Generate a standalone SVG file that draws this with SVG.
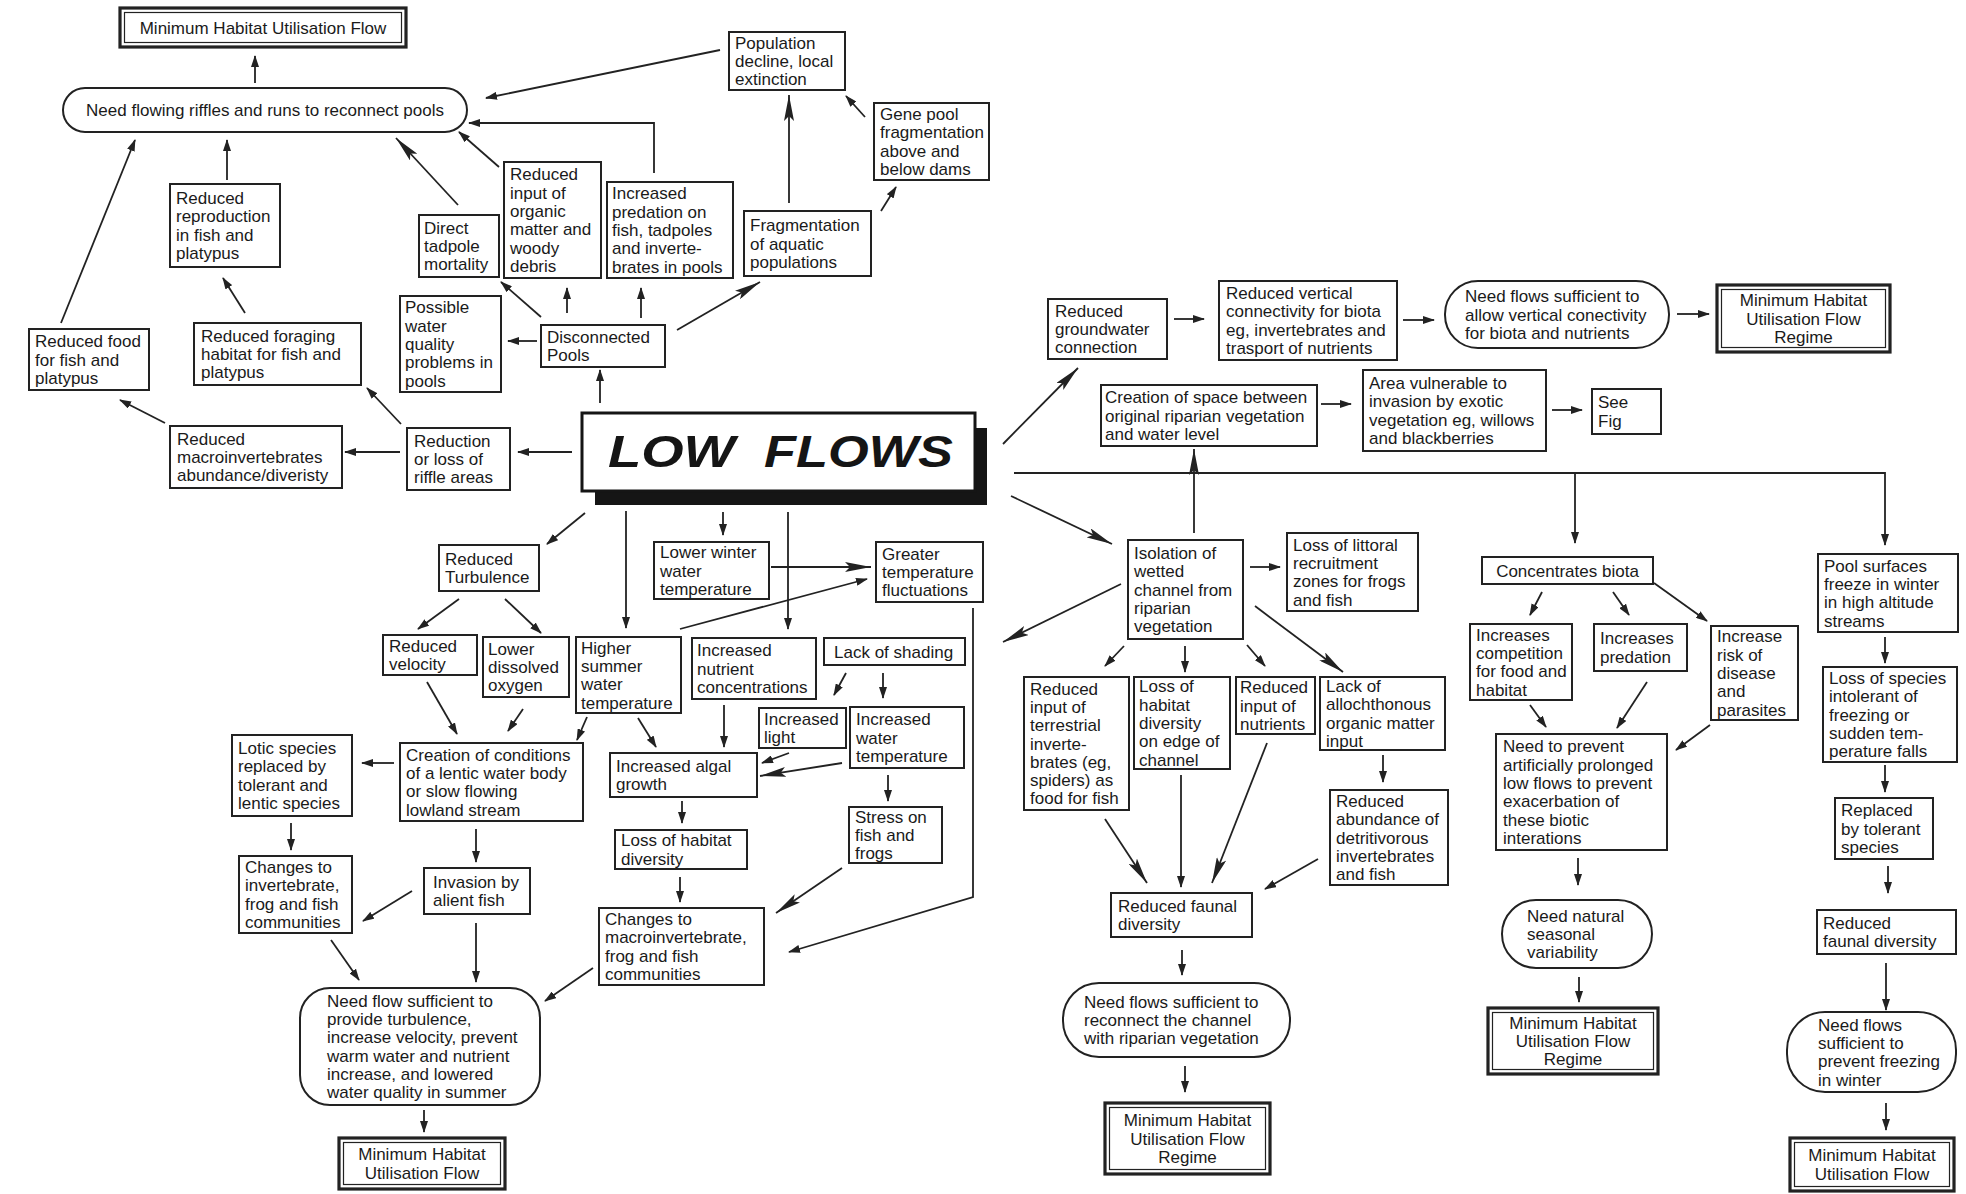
<svg xmlns="http://www.w3.org/2000/svg" width="1966" height="1194" viewBox="0 0 1966 1194">
<defs>
<style>
.box{fill:#fff;stroke:#222;stroke-width:2}
.dbl{fill:#fff;stroke:#222;stroke-width:3.2}
.inner{fill:none;stroke:#222;stroke-width:1.2}
.t{font-family:"Liberation Sans",Arial,Helvetica,sans-serif;font-size:17px;fill:#1a1a1a}
.c{text-anchor:middle}
.big{font-family:"Liberation Sans",Arial,sans-serif;font-size:44px;font-weight:bold;font-style:italic;fill:#151515}
.conn line,.conn polyline{stroke:#222;stroke-width:1.8;fill:none}
.a{marker-end:url(#a)}
.b{marker-end:url(#b)}
</style>
<marker id="a" markerUnits="userSpaceOnUse" markerWidth="12" markerHeight="8" refX="11" refY="4" orient="auto"><path d="M0,0 L12,4 L0,8 z" fill="#222"/></marker>
<marker id="b" markerUnits="userSpaceOnUse" markerWidth="26" markerHeight="10" refX="26" refY="5" orient="auto"><path d="M0,0 L26,5 L0,10 L5,5 z" fill="#222"/></marker>
</defs>
<rect x="0" y="0" width="1966" height="1194" fill="#fff"/>

<g class="conn">
<line class="a" x1="255" y1="83" x2="255" y2="56"/>
<line class="a" x1="61" y1="323" x2="135" y2="140"/>
<line class="a" x1="227" y1="180" x2="227" y2="140"/>
<line class="a" x1="245" y1="313" x2="223" y2="278"/>
<line class="b" x1="458" y1="205" x2="396" y2="138"/>
<line class="a" x1="499" y1="167" x2="459" y2="132"/>
<polyline class="a" points="654,173 654,123 469,123"/>
<line class="a" x1="720" y1="50" x2="486" y2="98"/>
<line class="a" x1="865" y1="117" x2="846" y2="96"/>
<line class="b" x1="789" y1="203" x2="789" y2="95"/>
<line class="a" x1="881" y1="211" x2="896" y2="187"/>
<line class="b" x1="677" y1="330" x2="760" y2="282"/>
<line class="a" x1="537" y1="341" x2="508" y2="341"/>
<line class="a" x1="541" y1="317" x2="501" y2="282"/>
<line class="a" x1="567" y1="313" x2="567" y2="288"/>
<line class="a" x1="641" y1="318" x2="641" y2="288"/>
<line class="a" x1="600" y1="403" x2="600" y2="370"/>
<line class="a" x1="572" y1="452" x2="518" y2="452"/>
<line class="a" x1="400" y1="452" x2="345" y2="452"/>
<line class="a" x1="165" y1="423" x2="120" y2="400"/>
<line class="a" x1="401" y1="424" x2="367" y2="388"/>
<line class="a" x1="585" y1="513" x2="547" y2="544"/>
<line class="a" x1="459" y1="599" x2="418" y2="629"/>
<line class="a" x1="505" y1="599" x2="541" y2="633"/>
<line class="a" x1="626" y1="511" x2="626" y2="628"/>
<line class="a" x1="723" y1="512" x2="723" y2="535"/>
<line class="a" x1="788" y1="512" x2="788" y2="629"/>
<line class="b" x1="771" y1="567" x2="871" y2="567"/>
<line class="a" x1="680" y1="629" x2="867" y2="579"/>
<line class="a" x1="427" y1="682" x2="457" y2="734"/>
<line class="a" x1="523" y1="709" x2="508" y2="731"/>
<line class="a" x1="587" y1="717" x2="577" y2="740"/>
<line class="a" x1="638" y1="718" x2="656" y2="747"/>
<line class="a" x1="846" y1="673" x2="834" y2="695"/>
<line class="a" x1="883" y1="673" x2="883" y2="698"/>
<line class="a" x1="724" y1="705" x2="724" y2="747"/>
<line class="a" x1="789" y1="753" x2="762" y2="763"/>
<line class="b" x1="842" y1="763" x2="760" y2="776"/>
<line class="a" x1="888" y1="775" x2="888" y2="801"/>
<line class="a" x1="394" y1="763" x2="362" y2="763"/>
<line class="a" x1="291" y1="823" x2="291" y2="850"/>
<line class="a" x1="476" y1="829" x2="476" y2="862"/>
<line class="a" x1="412" y1="891" x2="363" y2="921"/>
<line class="a" x1="331" y1="940" x2="359" y2="980"/>
<line class="a" x1="476" y1="923" x2="476" y2="982"/>
<line class="a" x1="593" y1="968" x2="545" y2="1001"/>
<line class="a" x1="424" y1="1110" x2="424" y2="1132"/>
<line class="a" x1="682" y1="801" x2="682" y2="823"/>
<line class="a" x1="680" y1="877" x2="680" y2="902"/>
<line class="b" x1="842" y1="868" x2="776" y2="913"/>
<polyline class="a" points="973,608 973,897 789,952"/>
<line class="b" x1="1003" y1="444" x2="1078" y2="368"/>
<line class="a" x1="1174" y1="319" x2="1204" y2="319"/>
<line class="a" x1="1403" y1="320" x2="1434" y2="320"/>
<line class="a" x1="1677" y1="314" x2="1709" y2="314"/>
<line class="a" x1="1321" y1="404" x2="1351" y2="404"/>
<line class="a" x1="1552" y1="410" x2="1582" y2="410"/>
<polyline class="a" points="1014,473 1885,473 1885,545"/>
<line class="a" x1="1575" y1="473" x2="1575" y2="543"/>
<line class="b" x1="1194" y1="533" x2="1194" y2="449"/>
<line class="b" x1="1011" y1="496" x2="1112" y2="544"/>
<line class="a" x1="1250" y1="567" x2="1280" y2="567"/>
<line class="b" x1="1121" y1="584" x2="1003" y2="642"/>
<line class="a" x1="1124" y1="646" x2="1105" y2="666"/>
<line class="a" x1="1185" y1="646" x2="1185" y2="672"/>
<line class="a" x1="1247" y1="645" x2="1265" y2="666"/>
<line class="b" x1="1255" y1="606" x2="1343" y2="672"/>
<line class="a" x1="1383" y1="755" x2="1383" y2="782"/>
<line class="b" x1="1105" y1="819" x2="1147" y2="883"/>
<line class="a" x1="1181" y1="775" x2="1181" y2="887"/>
<line class="b" x1="1267" y1="743" x2="1212" y2="883"/>
<line class="a" x1="1318" y1="859" x2="1265" y2="889"/>
<line class="a" x1="1182" y1="950" x2="1182" y2="975"/>
<line class="a" x1="1185" y1="1066" x2="1185" y2="1092"/>
<line class="a" x1="1542" y1="592" x2="1530" y2="615"/>
<line class="a" x1="1613" y1="592" x2="1629" y2="615"/>
<line class="a" x1="1654" y1="583" x2="1707" y2="621"/>
<line class="a" x1="1530" y1="705" x2="1546" y2="727"/>
<line class="a" x1="1647" y1="682" x2="1617" y2="728"/>
<line class="a" x1="1710" y1="725" x2="1676" y2="750"/>
<line class="a" x1="1578" y1="858" x2="1578" y2="885"/>
<line class="a" x1="1579" y1="977" x2="1579" y2="1002"/>
<line class="a" x1="1885" y1="637" x2="1885" y2="663"/>
<line class="a" x1="1885" y1="765" x2="1885" y2="792"/>
<line class="a" x1="1888" y1="866" x2="1888" y2="893"/>
<line class="a" x1="1886" y1="963" x2="1886" y2="1010"/>
<line class="a" x1="1886" y1="1103" x2="1886" y2="1130"/>
</g>

<g id="n_mhuf1"><rect class="dbl" x="120" y="8" width="286" height="39"/><rect class="inner" x="124.5" y="12.5" width="277" height="30"/><text class="t c" x="263" y="33.5">Minimum Habitat Utilisation Flow</text></g>
<g id="n_need_riffles"><rect class="box" x="63" y="88" width="404" height="44" rx="22"/><text class="t c" x="265" y="116">Need flowing riffles and runs to reconnect pools</text></g>
<g id="n_red_repro"><rect class="box" x="170" y="184" width="110" height="83"/><text class="t" y="204"><tspan x="176">Reduced</tspan><tspan x="176" dy="18.3">reproduction</tspan><tspan x="176" dy="18.3">in fish and</tspan><tspan x="176" dy="18.3">platypus</tspan></text></g>
<g id="n_red_food"><rect class="box" x="29" y="329" width="120" height="61"/><text class="t" y="347.2"><tspan x="35">Reduced food</tspan><tspan x="35" dy="18.3">for fish and</tspan><tspan x="35" dy="18.3">platypus</tspan></text></g>
<g id="n_red_forag"><rect class="box" x="194" y="323" width="167" height="62"/><text class="t" y="341.7"><tspan x="201">Reduced foraging</tspan><tspan x="201" dy="18.3">habitat for fish and</tspan><tspan x="201" dy="18.3">platypus</tspan></text></g>
<g id="n_direct"><rect class="box" x="419" y="215" width="80" height="62"/><text class="t" y="233.7"><tspan x="424">Direct</tspan><tspan x="424" dy="18.3">tadpole</tspan><tspan x="424" dy="18.3">mortality</tspan></text></g>
<g id="n_red_input"><rect class="box" x="504" y="162" width="97" height="116"/><text class="t" y="180.3"><tspan x="510">Reduced</tspan><tspan x="510" dy="18.3">input of</tspan><tspan x="510" dy="18.3">organic</tspan><tspan x="510" dy="18.3">matter and</tspan><tspan x="510" dy="18.3">woody</tspan><tspan x="510" dy="18.3">debris</tspan></text></g>
<g id="n_inc_pred"><rect class="box" x="607" y="182" width="126" height="96"/><text class="t" y="199.4"><tspan x="612">Increased</tspan><tspan x="612" dy="18.3">predation on</tspan><tspan x="612" dy="18.3">fish, tadpoles</tspan><tspan x="612" dy="18.3">and inverte-</tspan><tspan x="612" dy="18.3">brates in pools</tspan></text></g>
<g id="n_pop"><rect class="box" x="729" y="32" width="116" height="58"/><text class="t" y="48.7"><tspan x="735">Population</tspan><tspan x="735" dy="18.3">decline, local</tspan><tspan x="735" dy="18.3">extinction</tspan></text></g>
<g id="n_gene"><rect class="box" x="874" y="103" width="115" height="77"/><text class="t" y="120"><tspan x="880">Gene pool</tspan><tspan x="880" dy="18.3">fragmentation</tspan><tspan x="880" dy="18.3">above and</tspan><tspan x="880" dy="18.3">below dams</tspan></text></g>
<g id="n_frag"><rect class="box" x="744" y="211" width="127" height="65"/><text class="t" y="231.2"><tspan x="750">Fragmentation</tspan><tspan x="750" dy="18.3">of aquatic</tspan><tspan x="750" dy="18.3">populations</tspan></text></g>
<g id="n_possible"><rect class="box" x="400" y="296" width="101" height="96"/><text class="t" y="313.4"><tspan x="405">Possible</tspan><tspan x="405" dy="18.3">water</tspan><tspan x="405" dy="18.3">quality</tspan><tspan x="405" dy="18.3">problems in</tspan><tspan x="405" dy="18.3">pools</tspan></text></g>
<g id="n_disc"><rect class="box" x="541" y="325" width="124" height="42"/><text class="t" y="342.9"><tspan x="547">Disconnected</tspan><tspan x="547" dy="18.3">Pools</tspan></text></g>
<g id="n_red_macro"><rect class="box" x="170" y="426" width="172" height="62"/><text class="t" y="444.7"><tspan x="177">Reduced</tspan><tspan x="177" dy="18.3">macroinvertebrates</tspan><tspan x="177" dy="18.3">abundance/diveristy</tspan></text></g>
<g id="n_reduction"><rect class="box" x="407" y="428" width="103" height="62"/><text class="t" y="446.7"><tspan x="414">Reduction</tspan><tspan x="414" dy="18.3">or loss of</tspan><tspan x="414" dy="18.3">riffle areas</tspan></text></g>
<g id="n_low"><rect x="595" y="428" width="392" height="77" fill="#151515"/><rect x="582" y="413" width="393" height="78" fill="#fff" stroke="#151515" stroke-width="3"/><text class="big" x="608" y="467" textLength="127" lengthAdjust="spacingAndGlyphs">LOW</text><text class="big" x="764" y="467" textLength="189" lengthAdjust="spacingAndGlyphs">FLOWS</text></g>
<g id="n_turb"><rect class="box" x="439" y="545" width="100" height="46"/><text class="t" y="564.9"><tspan x="445">Reduced</tspan><tspan x="445" dy="18.3">Turbulence</tspan></text></g>
<g id="n_velocity"><rect class="box" x="383" y="635" width="94" height="40"/><text class="t" y="651.9"><tspan x="389">Reduced</tspan><tspan x="389" dy="18.3">velocity</tspan></text></g>
<g id="n_oxygen"><rect class="box" x="483" y="637" width="86" height="60"/><text class="t" y="654.7"><tspan x="488">Lower</tspan><tspan x="488" dy="18.3">dissolved</tspan><tspan x="488" dy="18.3">oxygen</tspan></text></g>
<g id="n_higher"><rect class="box" x="576" y="637" width="105" height="76"/><text class="t" y="653.6"><tspan x="581">Higher</tspan><tspan x="581" dy="18.3">summer</tspan><tspan x="581" dy="18.3">water</tspan><tspan x="581" dy="18.3">temperature</tspan></text></g>
<g id="n_winter"><rect class="box" x="654" y="542" width="115" height="57"/><text class="t" y="558.2"><tspan x="660">Lower winter</tspan><tspan x="660" dy="18.3">water</tspan><tspan x="660" dy="18.3">temperature</tspan></text></g>
<g id="n_greater"><rect class="box" x="876" y="542" width="107" height="60"/><text class="t" y="559.7"><tspan x="882">Greater</tspan><tspan x="882" dy="18.3">temperature</tspan><tspan x="882" dy="18.3">fluctuations</tspan></text></g>
<g id="n_nutrient"><rect class="box" x="692" y="638" width="124" height="61"/><text class="t" y="656.2"><tspan x="697">Increased</tspan><tspan x="697" dy="18.3">nutrient</tspan><tspan x="697" dy="18.3">concentrations</tspan></text></g>
<g id="n_shading"><rect class="box" x="824" y="638" width="141" height="27"/><text class="t" x="834" y="657.5">Lack of shading</text></g>
<g id="n_light"><rect class="box" x="759" y="708" width="87" height="40"/><text class="t" y="724.9"><tspan x="764">Increased</tspan><tspan x="764" dy="18.3">light</tspan></text></g>
<g id="n_watertemp"><rect class="box" x="850" y="707" width="114" height="61"/><text class="t" y="725.2"><tspan x="856">Increased</tspan><tspan x="856" dy="18.3">water</tspan><tspan x="856" dy="18.3">temperature</tspan></text></g>
<g id="n_algal"><rect class="box" x="610" y="753" width="147" height="44"/><text class="t" y="771.9"><tspan x="616">Increased algal</tspan><tspan x="616" dy="18.3">growth</tspan></text></g>
<g id="n_lotic"><rect class="box" x="232" y="735" width="120" height="81"/><text class="t" y="754"><tspan x="238">Lotic species</tspan><tspan x="238" dy="18.3">replaced by</tspan><tspan x="238" dy="18.3">tolerant and</tspan><tspan x="238" dy="18.3">lentic species</tspan></text></g>
<g id="n_creation"><rect class="box" x="400" y="743" width="183" height="78"/><text class="t" y="760.6"><tspan x="406">Creation of conditions</tspan><tspan x="406" dy="18.3">of a lentic water body</tspan><tspan x="406" dy="18.3">or slow flowing</tspan><tspan x="406" dy="18.3">lowland stream</tspan></text></g>
<g id="n_loss_hab"><rect class="box" x="615" y="830" width="132" height="39"/><text class="t" y="846.4"><tspan x="621">Loss of habitat</tspan><tspan x="621" dy="18.3">diversity</tspan></text></g>
<g id="n_stress"><rect class="box" x="849" y="807" width="93" height="56"/><text class="t" y="822.7"><tspan x="855">Stress on</tspan><tspan x="855" dy="18.3">fish and</tspan><tspan x="855" dy="18.3">frogs</tspan></text></g>
<g id="n_changes_inv"><rect class="box" x="239" y="856" width="113" height="77"/><text class="t" y="873"><tspan x="245">Changes to</tspan><tspan x="245" dy="18.3">invertebrate,</tspan><tspan x="245" dy="18.3">frog and fish</tspan><tspan x="245" dy="18.3">communities</tspan></text></g>
<g id="n_invasion"><rect class="box" x="424" y="868" width="106" height="46"/><text class="t" y="887.9"><tspan x="433">Invasion by</tspan><tspan x="433" dy="18.3">alient fish</tspan></text></g>
<g id="n_changes_macro"><rect class="box" x="599" y="908" width="165" height="77"/><text class="t" y="925"><tspan x="605">Changes to</tspan><tspan x="605" dy="18.3">macroinvertebrate,</tspan><tspan x="605" dy="18.3">frog and fish</tspan><tspan x="605" dy="18.3">communities</tspan></text></g>
<g id="n_need_turb"><rect class="box" x="300" y="988" width="240" height="117" rx="30"/><text class="t" y="1006.8"><tspan x="327">Need flow sufficient to</tspan><tspan x="327" dy="18.3">provide turbulence,</tspan><tspan x="327" dy="18.3">increase velocity, prevent</tspan><tspan x="327" dy="18.3">warm water and nutrient</tspan><tspan x="327" dy="18.3">increase, and lowered</tspan><tspan x="327" dy="18.3">water quality in summer</tspan></text></g>
<g id="n_mhuf_bl"><rect class="dbl" x="339" y="1138" width="166" height="51"/><rect class="inner" x="343.5" y="1142.5" width="157" height="42"/><text class="t c" y="1160.4"><tspan x="422">Minimum Habitat</tspan><tspan x="422" dy="18.3">Utilisation Flow</tspan></text></g>
<g id="n_groundwater"><rect class="box" x="1048" y="299" width="119" height="60"/><text class="t" y="316.7"><tspan x="1055">Reduced</tspan><tspan x="1055" dy="18.3">groundwater</tspan><tspan x="1055" dy="18.3">connection</tspan></text></g>
<g id="n_vertical"><rect class="box" x="1219" y="281" width="178" height="79"/><text class="t" y="299"><tspan x="1226">Reduced vertical</tspan><tspan x="1226" dy="18.3">connectivity for biota</tspan><tspan x="1226" dy="18.3">eg, invertebrates and</tspan><tspan x="1226" dy="18.3">trasport of nutrients</tspan></text></g>
<g id="n_need_vert"><rect class="box" x="1445" y="281" width="224" height="67" rx="33"/><text class="t" y="302.2"><tspan x="1465">Need flows sufficient to</tspan><tspan x="1465" dy="18.3">allow vertical conectivity</tspan><tspan x="1465" dy="18.3">for biota and nutrients</tspan></text></g>
<g id="n_mhuf_r1"><rect class="dbl" x="1717" y="285" width="173" height="67"/><rect class="inner" x="1721.5" y="289.5" width="164" height="58"/><text class="t c" y="306.2"><tspan x="1803.5">Minimum Habitat</tspan><tspan x="1803.5" dy="18.3">Utilisation Flow</tspan><tspan x="1803.5" dy="18.3">Regime</tspan></text></g>
<g id="n_space"><rect class="box" x="1101" y="385" width="216" height="61"/><text class="t" y="403.2"><tspan x="1105">Creation of space between</tspan><tspan x="1105" dy="18.3">original riparian vegetation</tspan><tspan x="1105" dy="18.3">and water level</tspan></text></g>
<g id="n_area"><rect class="box" x="1363" y="370" width="183" height="81"/><text class="t" y="389"><tspan x="1369">Area vulnerable to</tspan><tspan x="1369" dy="18.3">invasion by exotic</tspan><tspan x="1369" dy="18.3">vegetation eg, willows</tspan><tspan x="1369" dy="18.3">and blackberries</tspan></text></g>
<g id="n_seefig"><rect class="box" x="1592" y="389" width="69" height="45"/><text class="t" y="408.4"><tspan x="1598">See</tspan><tspan x="1598" dy="18.3">Fig</tspan></text></g>
<g id="n_isolation"><rect class="box" x="1128" y="540" width="115" height="99"/><text class="t" y="558.9"><tspan x="1134">Isolation of</tspan><tspan x="1134" dy="18.3">wetted</tspan><tspan x="1134" dy="18.3">channel from</tspan><tspan x="1134" dy="18.3">riparian</tspan><tspan x="1134" dy="18.3">vegetation</tspan></text></g>
<g id="n_littoral"><rect class="box" x="1287" y="533" width="131" height="78"/><text class="t" y="550.6"><tspan x="1293">Loss of littoral</tspan><tspan x="1293" dy="18.3">recruitment</tspan><tspan x="1293" dy="18.3">zones for frogs</tspan><tspan x="1293" dy="18.3">and fish</tspan></text></g>
<g id="n_terrestrial"><rect class="box" x="1024" y="677" width="105" height="133"/><text class="t" y="694.6"><tspan x="1030">Reduced</tspan><tspan x="1030" dy="18.3">input of</tspan><tspan x="1030" dy="18.3">terrestrial</tspan><tspan x="1030" dy="18.3">inverte-</tspan><tspan x="1030" dy="18.3">brates (eg,</tspan><tspan x="1030" dy="18.3">spiders) as</tspan><tspan x="1030" dy="18.3">food for fish</tspan></text></g>
<g id="n_loss_edge"><rect class="box" x="1134" y="677" width="96" height="92"/><text class="t" y="692.4"><tspan x="1139">Loss of</tspan><tspan x="1139" dy="18.3">habitat</tspan><tspan x="1139" dy="18.3">diversity</tspan><tspan x="1139" dy="18.3">on edge of</tspan><tspan x="1139" dy="18.3">channel</tspan></text></g>
<g id="n_red_nutr"><rect class="box" x="1236" y="677" width="79" height="57"/><text class="t" y="693.2"><tspan x="1240">Reduced</tspan><tspan x="1240" dy="18.3">input of</tspan><tspan x="1240" dy="18.3">nutrients</tspan></text></g>
<g id="n_lack_allo"><rect class="box" x="1320" y="677" width="125" height="73"/><text class="t" y="692"><tspan x="1326">Lack of</tspan><tspan x="1326" dy="18.3">allochthonous</tspan><tspan x="1326" dy="18.3">organic matter</tspan><tspan x="1326" dy="18.3">input</tspan></text></g>
<g id="n_red_abund"><rect class="box" x="1330" y="790" width="118" height="95"/><text class="t" y="806.9"><tspan x="1336">Reduced</tspan><tspan x="1336" dy="18.3">abundance of</tspan><tspan x="1336" dy="18.3">detritivorous</tspan><tspan x="1336" dy="18.3">invertebrates</tspan><tspan x="1336" dy="18.3">and fish</tspan></text></g>
<g id="n_faunal"><rect class="box" x="1111" y="893" width="141" height="44"/><text class="t" y="911.9"><tspan x="1118">Reduced faunal</tspan><tspan x="1118" dy="18.3">diversity</tspan></text></g>
<g id="n_need_reconnect"><rect class="box" x="1063" y="983" width="227" height="74" rx="36"/><text class="t" y="1007.7"><tspan x="1084">Need flows sufficient to</tspan><tspan x="1084" dy="18.3">reconnect the channel</tspan><tspan x="1084" dy="18.3">with riparian vegetation</tspan></text></g>
<g id="n_mhuf_m"><rect class="dbl" x="1105" y="1103" width="165" height="71"/><rect class="inner" x="1109.5" y="1107.5" width="156" height="62"/><text class="t c" y="1126.2"><tspan x="1187.5">Minimum Habitat</tspan><tspan x="1187.5" dy="18.3">Utilisation Flow</tspan><tspan x="1187.5" dy="18.3">Regime</tspan></text></g>
<g id="n_concentrates"><rect class="box" x="1482" y="557" width="171" height="27"/><text class="t c" x="1567.5" y="576.5">Concentrates biota</text></g>
<g id="n_competition"><rect class="box" x="1470" y="624" width="102" height="76"/><text class="t" y="640.6"><tspan x="1476">Increases</tspan><tspan x="1476" dy="18.3">competition</tspan><tspan x="1476" dy="18.3">for food and</tspan><tspan x="1476" dy="18.3">habitat</tspan></text></g>
<g id="n_predation"><rect class="box" x="1594" y="624" width="93" height="47"/><text class="t" y="644.4"><tspan x="1600">Increases</tspan><tspan x="1600" dy="18.3">predation</tspan></text></g>
<g id="n_disease"><rect class="box" x="1711" y="626" width="87" height="94"/><text class="t" y="642.4"><tspan x="1717">Increase</tspan><tspan x="1717" dy="18.3">risk of</tspan><tspan x="1717" dy="18.3">disease</tspan><tspan x="1717" dy="18.3">and</tspan><tspan x="1717" dy="18.3">parasites</tspan></text></g>
<g id="n_prevent"><rect class="box" x="1496" y="734" width="171" height="116"/><text class="t" y="752.3"><tspan x="1503">Need to prevent</tspan><tspan x="1503" dy="18.3">artificially prolonged</tspan><tspan x="1503" dy="18.3">low flows to prevent</tspan><tspan x="1503" dy="18.3">exacerbation of</tspan><tspan x="1503" dy="18.3">these biotic</tspan><tspan x="1503" dy="18.3">interations</tspan></text></g>
<g id="n_seasonal"><rect class="box" x="1502" y="900" width="150" height="68" rx="34"/><text class="t" y="921.7"><tspan x="1527">Need natural</tspan><tspan x="1527" dy="18.3">seasonal</tspan><tspan x="1527" dy="18.3">variability</tspan></text></g>
<g id="n_mhuf_r2"><rect class="dbl" x="1488" y="1008" width="170" height="66"/><rect class="inner" x="1492.5" y="1012.5" width="161" height="57"/><text class="t c" y="1028.7"><tspan x="1573">Minimum Habitat</tspan><tspan x="1573" dy="18.3">Utilisation Flow</tspan><tspan x="1573" dy="18.3">Regime</tspan></text></g>
<g id="n_freeze"><rect class="box" x="1818" y="554" width="140" height="78"/><text class="t" y="571.6"><tspan x="1824">Pool surfaces</tspan><tspan x="1824" dy="18.3">freeze in winter</tspan><tspan x="1824" dy="18.3">in high altitude</tspan><tspan x="1824" dy="18.3">streams</tspan></text></g>
<g id="n_intolerant"><rect class="box" x="1823" y="667" width="134" height="95"/><text class="t" y="683.9"><tspan x="1829">Loss of species</tspan><tspan x="1829" dy="18.3">intolerant of</tspan><tspan x="1829" dy="18.3">freezing or</tspan><tspan x="1829" dy="18.3">sudden tem-</tspan><tspan x="1829" dy="18.3">perature falls</tspan></text></g>
<g id="n_replaced"><rect class="box" x="1835" y="798" width="98" height="61"/><text class="t" y="816.2"><tspan x="1841">Replaced</tspan><tspan x="1841" dy="18.3">by tolerant</tspan><tspan x="1841" dy="18.3">species</tspan></text></g>
<g id="n_faunal_r"><rect class="box" x="1817" y="910" width="139" height="44"/><text class="t" y="928.9"><tspan x="1823">Reduced</tspan><tspan x="1823" dy="18.3">faunal diversity</tspan></text></g>
<g id="n_need_freeze"><rect class="box" x="1787" y="1012" width="169" height="80" rx="38"/><text class="t" y="1030.6"><tspan x="1818">Need flows</tspan><tspan x="1818" dy="18.3">sufficient to</tspan><tspan x="1818" dy="18.3">prevent freezing</tspan><tspan x="1818" dy="18.3">in winter</tspan></text></g>
<g id="n_mhuf_br"><rect class="dbl" x="1790" y="1138" width="164" height="53"/><rect class="inner" x="1794.5" y="1142.5" width="155" height="44"/><text class="t c" y="1161.4"><tspan x="1872">Minimum Habitat</tspan><tspan x="1872" dy="18.3">Utilisation Flow</tspan></text></g>
</svg>
